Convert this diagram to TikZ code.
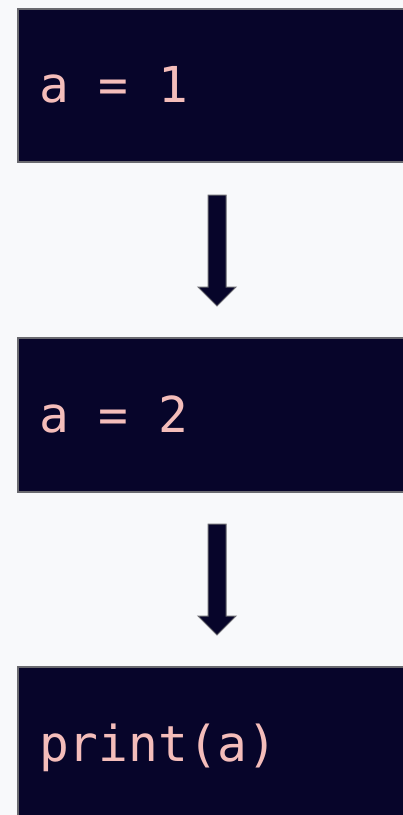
\documentclass[tikz,border=0pt]{standalone}
\usepackage{fontspec}
\newfontfamily\codefont{DejaVu Sans Mono}
\definecolor{bg}{HTML}{F8F9FB}
\definecolor{boxfill}{HTML}{07052A}
\definecolor{boxline}{HTML}{6A6A70}
\definecolor{codepink}{HTML}{F4BDBA}
\tikzset{
  codebox/.style={draw=boxline, line width=1.5pt, fill=boxfill},
  codetext/.style={anchor=base west, inner sep=0pt, text=codepink, font=\codefont\fontsize{49.5}{49.5}\selectfont},
  blockarrow/.style={draw=boxline, line width=1pt, fill=boxfill, line join=miter}
}
\begin{document}
\begin{tikzpicture}[x=1pt,y=-1pt]
\useasboundingbox (0,0) rectangle (403,815);
\fill[bg] (0,0) rectangle (403,815);
\clip (0,0) rectangle (403,815);
\draw[codebox] (18,9) rectangle (412,162);
\draw[codebox] (18,338) rectangle (412,492);
\draw[codebox] (18,667) rectangle (412,830);
\node[codetext] (t1) at (39,102) {a = 1};
\node[codetext] (t2) at (39,432) {a = 2};
\node[codetext] (t3) at (39,761) {print(a)};
\draw[blockarrow] (208,195) -- (226,195) -- (226,287) -- (236,287) -- (217,306) -- (198,287) -- (208,287) -- cycle;
\draw[blockarrow] (208,524) -- (226,524) -- (226,616) -- (236,616) -- (217,635) -- (198,616) -- (208,616) -- cycle;
\end{tikzpicture}
\end{document}
